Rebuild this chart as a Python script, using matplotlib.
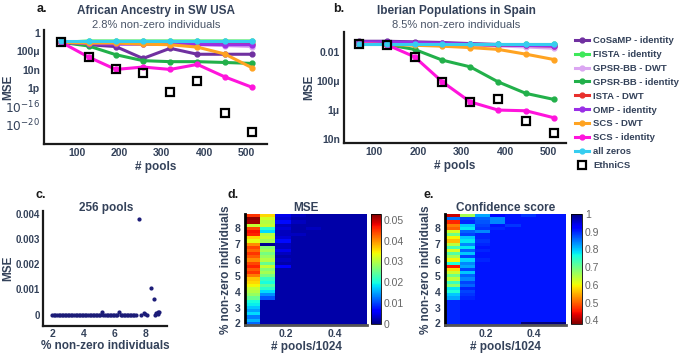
import matplotlib
matplotlib.use('Agg')
import matplotlib.pyplot as plt
import numpy as np
from matplotlib.ticker import NullLocator

plt.rcParams['font.family'] = ['Liberation Sans', 'DejaVu Sans']
TXT = '#34425a'

# ---- data -------------------------------------------------------------
pools = [64, 128, 192, 256, 320, 384, 448, 512]

methods = ['CoSaMP - identity', 'FISTA - identity', 'GPSR-BB - DWT',
           'GPSR-BB - identity', 'ISTA - DWT', 'OMP - identity',
           'SCS - DWT', 'SCS - identity', 'all zeros']
colors = ['#7030a0', '#3ee85a', '#dba6f2', '#22b04a', '#e8302c',
          '#9a2fe6', '#ffa321', '#ff14dc', '#36cdf0']

# panel a: African ancestry in SW USA (MSE)
mse_a = [
    [1e-2, 3e-3, 1.2e-3, 3e-6, 5e-4, 2.5e-5, 2.5e-5, 2.5e-5],   # CoSaMP
    [1e-2, 2e-2, 2e-2, 2e-2, 2e-2, 2e-2, 2e-2, 2e-2],           # FISTA
    [1e-2, 8e-3, 6e-3, 5e-3, 4e-3, 3e-3, 2e-3, 1.2e-3],         # GPSR-BB DWT
    [1e-2, 1.6e-3, 2e-5, 1e-6, 6e-7, 6e-7, 4e-7, 2.5e-7],       # GPSR-BB id
    [1e-2, 8e-3, 7e-3, 6e-3, 6e-3, 5.5e-3, 5e-3, 5e-3],         # ISTA DWT
    [1e-2, 5e-3, 4e-3, 4e-3, 3.5e-3, 3.5e-3, 3e-3, 3e-3],       # OMP
    [1e-2, 7e-3, 7e-3, 4e-3, 3e-3, 9e-4, 3e-5, 3e-8],           # SCS DWT
    [1e-2, 6e-6, 1.2e-8, 4e-8, 1.2e-8, 1.5e-7, 3e-10, 1.6e-12], # SCS id
    [2.5e-2, 2.5e-2, 2.5e-2, 2.5e-2, 2.5e-2, 2.5e-2, 2.5e-2, 2.5e-2],
]
ethnics_a = [1e-2, 6e-6, 1.2e-8, 2.5e-9, 1.6e-13, 4e-11, 3e-18, 2.5e-22]

# panel b: Iberian populations in Spain (MSE)
mse_b = [
    [5.5e-2, 5.5e-2, 5e-2, 4.5e-2, 3.8e-2, 3.3e-2, 3e-2, 2.8e-2],
    [3.8e-2, 3.8e-2, 3.8e-2, 3.8e-2, 3.8e-2, 3.8e-2, 3.8e-2, 3.8e-2],
    [3.8e-2, 3.6e-2, 3.4e-2, 3.2e-2, 3e-2, 2.6e-2, 2.2e-2, 1.8e-2],
    [3.8e-2, 3.2e-2, 1.5e-2, 2.7e-3, 9.3e-4, 8.5e-5, 1.35e-5, 5.2e-6],
    [3.8e-2, 3.7e-2, 3.5e-2, 3.4e-2, 3.2e-2, 3e-2, 2.8e-2, 2.6e-2],
    [5e-2, 5e-2, 4.5e-2, 4e-2, 3.5e-2, 3e-2, 2.8e-2, 2.6e-2],
    [3.8e-2, 3.2e-2, 2.9e-2, 2.5e-2, 2e-2, 1.5e-2, 7e-3, 3e-3],
    [3.8e-2, 3.2e-2, 4.6e-3, 8.5e-5, 3.5e-6, 9.5e-7, 8.5e-7, 2.8e-7],
    [3.8e-2, 3.8e-2, 3.8e-2, 3.8e-2, 3.8e-2, 3.8e-2, 3.8e-2, 3.8e-2],
]
ethnics_b = [3.8e-2, 3.2e-2, 4.6e-3, 8.5e-5, 3.2e-6, 5.2e-6, 1.7e-7, 2.6e-8]

# panel c: 256 pools, MSE vs % non-zero
c_pct = [2.0, 2.1, 2.2, 2.3, 2.4, 2.5, 2.6, 2.7, 2.8, 2.9, 3.0, 3.1, 3.2,
         3.3, 3.4, 3.5, 3.6, 3.7, 3.8, 3.9, 4.0, 4.1, 4.2, 4.3, 4.4, 4.5,
         4.6, 4.7, 4.8, 4.9, 5.0, 5.1, 5.2, 5.3, 5.4, 5.5, 5.6, 5.7, 5.8,
         5.9, 6.0, 6.1, 6.2, 6.3, 6.4, 6.5, 6.6, 6.7, 6.8, 6.9, 7.0, 7.1,
         7.2, 7.3, 7.4, 7.6, 7.7, 7.9, 8.0, 8.1, 8.35, 8.55, 8.6, 8.7,
         8.8, 8.85, 8.9]
c_mse = [0, 0, 0, 0, 0, 0, 0, 0, 0, 0, 0, 0, 0,
         0, 0, 0, 0, 0, 0, 0, 0, 0, 0, 0, 0, 0,
         0, 0, 0, 0, 0, 0, 1e-4, 0, 0, 0, 0, 0, 0,
         0, 0, 0, 0, 9e-5, 0, 0, 0, 0, 0, 0, 0, 0,
         0, 0, 0, 3.8e-3, 0, 8e-5, 4e-5, 0, 1.05e-3, 6.3e-4, 0, 5e-5,
         3e-5, 1.2e-4, 1.1e-4]

# panels d, e: rows are % non-zero (8.8 at top down to 2.0), cols are pools
row_pct = [8.8, 8.6, 8.4, 8.2, 8.0, 7.8, 7.6, 7.4, 7.2, 7.0, 6.8, 6.6, 6.4,
           6.2, 6.0, 5.8, 5.6, 5.4, 5.2, 5.0, 4.8, 4.6, 4.4, 4.2, 4.0, 3.8,
           3.6, 3.4, 3.2, 3.0, 2.8, 2.6, 2.4, 2.2, 2.0]
mse_grid = [
    [0.045, 0.036, 0.005, 0.003, 0.002, 0.002, 0.002, 0.002],
    [0.052, 0.032, 0.004, 0.002, 0.002, 0.002, 0.002, 0.002],
    [0.051, 0.030, 0.007, 0.003, 0.002, 0.002, 0.002, 0.002],
    [0.031, 0.031, 0.003, 0.002, 0.002, 0.002, 0.002, 0.002],
    [0.044, 0.021, 0.004, 0.002, 0.003, 0.002, 0.002, 0.002],
    [0.047, 0.018, 0.003, 0.002, 0.002, 0.002, 0.002, 0.002],
    [0.046, 0.030, 0.003, 0.003, 0.002, 0.002, 0.002, 0.002],
    [0.036, 0.031, 0.004, 0.002, 0.002, 0.002, 0.002, 0.002],
    [0.033, 0.029, 0.007, 0.002, 0.002, 0.002, 0.002, 0.002],
    [0.040, 0.001, 0.003, 0.002, 0.002, 0.002, 0.002, 0.002],
    [0.044, 0.027, 0.003, 0.002, 0.002, 0.002, 0.002, 0.002],
    [0.042, 0.029, 0.005, 0.002, 0.002, 0.002, 0.002, 0.002],
    [0.045, 0.026, 0.003, 0.002, 0.002, 0.002, 0.002, 0.002],
    [0.043, 0.028, 0.002, 0.002, 0.002, 0.002, 0.002, 0.002],
    [0.040, 0.030, 0.003, 0.002, 0.002, 0.002, 0.002, 0.002],
    [0.044, 0.025, 0.002, 0.002, 0.002, 0.002, 0.002, 0.002],
    [0.046, 0.031, 0.006, 0.002, 0.002, 0.002, 0.002, 0.002],
    [0.043, 0.027, 0.002, 0.002, 0.002, 0.002, 0.002, 0.002],
    [0.045, 0.029, 0.002, 0.002, 0.002, 0.002, 0.002, 0.002],
    [0.041, 0.026, 0.002, 0.002, 0.002, 0.002, 0.002, 0.002],
    [0.037, 0.022, 0.002, 0.002, 0.002, 0.002, 0.002, 0.002],
    [0.036, 0.020, 0.002, 0.002, 0.002, 0.002, 0.002, 0.002],
    [0.034, 0.024, 0.002, 0.002, 0.002, 0.002, 0.002, 0.002],
    [0.031, 0.021, 0.002, 0.002, 0.002, 0.002, 0.002, 0.002],
    [0.030, 0.018, 0.002, 0.002, 0.002, 0.002, 0.002, 0.002],
    [0.028, 0.014, 0.002, 0.002, 0.002, 0.002, 0.002, 0.002],
    [0.025, 0.011, 0.002, 0.002, 0.002, 0.002, 0.002, 0.002],
    [0.020, 0.002, 0.002, 0.002, 0.002, 0.002, 0.002, 0.002],
    [0.019, 0.002, 0.002, 0.002, 0.002, 0.002, 0.002, 0.002],
    [0.017, 0.002, 0.002, 0.002, 0.002, 0.002, 0.002, 0.002],
    [0.015, 0.002, 0.002, 0.002, 0.002, 0.002, 0.002, 0.002],
    [0.018, 0.002, 0.002, 0.002, 0.002, 0.002, 0.002, 0.002],
    [0.013, 0.002, 0.002, 0.002, 0.002, 0.002, 0.002, 0.002],
    [0.016, 0.002, 0.002, 0.002, 0.002, 0.002, 0.002, 0.002],
    [0.012, 0.002, 0.002, 0.002, 0.002, 0.002, 0.002, 0.002],
]
conf_grid = [
    [0.42, 0.66, 0.82, 0.92, 0.91, 0.89, 0.91, 0.91],
    [0.85, 0.88, 0.86, 0.84, 0.91, 0.91, 0.91, 0.91],
    [0.46, 0.90, 0.87, 0.84, 0.91, 0.91, 0.91, 0.91],
    [0.52, 0.80, 0.88, 0.91, 0.89, 0.91, 0.91, 0.91],
    [0.50, 0.78, 0.89, 0.90, 0.91, 0.91, 0.91, 0.91],
    [0.62, 0.86, 0.84, 0.91, 0.91, 0.91, 0.91, 0.91],
    [0.70, 0.88, 0.90, 0.91, 0.91, 0.91, 0.91, 0.91],
    [0.60, 0.80, 0.90, 0.91, 0.91, 0.91, 0.91, 0.91],
    [0.56, 0.78, 0.89, 0.91, 0.91, 0.91, 0.91, 0.91],
    [0.64, 0.84, 0.90, 0.91, 0.91, 0.91, 0.91, 0.91],
    [0.73, 0.78, 0.91, 0.91, 0.91, 0.91, 0.91, 0.91],
    [0.62, 0.86, 0.90, 0.91, 0.91, 0.91, 0.91, 0.91],
    [0.72, 0.80, 0.91, 0.91, 0.91, 0.91, 0.91, 0.91],
    [0.66, 0.88, 0.91, 0.91, 0.91, 0.91, 0.91, 0.91],
    [0.60, 0.79, 0.90, 0.91, 0.91, 0.91, 0.91, 0.91],
    [0.76, 0.84, 0.91, 0.91, 0.91, 0.91, 0.91, 0.91],
    [0.45, 0.82, 0.91, 0.91, 0.91, 0.91, 0.91, 0.91],
    [0.58, 0.88, 0.91, 0.91, 0.91, 0.91, 0.91, 0.91],
    [0.63, 0.80, 0.91, 0.91, 0.91, 0.91, 0.91, 0.91],
    [0.70, 0.86, 0.91, 0.91, 0.91, 0.91, 0.91, 0.91],
    [0.64, 0.84, 0.91, 0.91, 0.91, 0.91, 0.91, 0.91],
    [0.74, 0.88, 0.91, 0.91, 0.91, 0.91, 0.91, 0.91],
    [0.68, 0.86, 0.91, 0.91, 0.91, 0.91, 0.91, 0.91],
    [0.78, 0.90, 0.91, 0.91, 0.91, 0.91, 0.91, 0.91],
    [0.76, 0.88, 0.91, 0.91, 0.91, 0.91, 0.91, 0.91],
    [0.80, 0.89, 0.91, 0.91, 0.91, 0.91, 0.91, 0.91],
    [0.82, 0.90, 0.91, 0.91, 0.91, 0.91, 0.91, 0.91],
    [0.90, 0.91, 0.91, 0.91, 0.91, 0.91, 0.91, 0.91],
    [0.90, 0.91, 0.91, 0.91, 0.91, 0.91, 0.91, 0.91],
    [0.90, 0.91, 0.91, 0.91, 0.91, 0.91, 0.91, 0.91],
    [0.90, 0.91, 0.91, 0.91, 0.91, 0.91, 0.91, 0.91],
    [0.90, 0.91, 0.91, 0.91, 0.91, 0.91, 0.91, 0.91],
    [0.90, 0.91, 0.91, 0.91, 0.91, 0.91, 0.91, 0.91],
    [0.90, 0.91, 0.91, 0.91, 0.91, 0.91, 0.91, 0.91],
    [0.90, 0.91, 0.91, 0.91, 0.91, 1.00, 1.00, 1.00],
]
mse_cticks = [0, 0.01, 0.02, 0.03, 0.04, 0.05]
mse_clabels = ['0', '0.01', '0.02', '0.03', '0.04', '0.05']
conf_cticks = [0.4, 0.5, 0.6, 0.7, 0.8, 0.9, 1.0]
conf_clabels = ['0.4', '0.5', '0.6', '0.7', '0.8', '0.9', '1']

W, H = 685, 356


def box(x0, y0, x1, y1):
    # pixel box (top-left origin) -> figure fraction
    return [x0 / W, 1 - y1 / H, (x1 - x0) / W, (y1 - y0) / H]


def style_line_axes(ax):
    for s in ['top', 'right']:
        ax.spines[s].set_visible(False)
    for s in ['left', 'bottom']:
        ax.spines[s].set_linewidth(1.6)
        ax.spines[s].set_color('#1a1a1a')
    ax.tick_params(length=0, pad=3, labelsize=7.5, labelcolor=TXT)
    for t in ax.get_xticklabels() + ax.get_yticklabels():
        t.set_fontweight('bold')


def side_label(x, y, s):
    fig.text(x / W, 1 - y / H, s, rotation=90, ha='center', va='center',
             fontsize=8.5, fontweight='bold', color=TXT)


fig = plt.figure(figsize=(6.85, 3.56), dpi=100)

# ---- panel a ----------------------------------------------------------
ax = fig.add_axes(box(44, 30, 267, 144))
for lab, col, vals in zip(methods, colors, mse_a):
    ax.plot(pools, vals, color=col, lw=2.2, marker='o', ms=3.5, label=lab)
ax.plot(pools, ethnics_a, ls='none', marker='s', ms=6, mfc='none',
        mec='black', mew=1.6, label='EthniCS', zorder=5)
ax.set_yscale('log')
ax.set_ylim(6e-25, 5)
ax.set_xlim(23, 548)
ax.set_xticks([100, 200, 300, 400, 500])
ax.set_yticks([1, 1e-4, 1e-8, 1e-12, 1e-16, 1e-20])
ax.set_yticklabels(['1', '100μ', '10n', '1p', r'$10^{-16}$', r'$10^{-20}$'])
ax.yaxis.set_minor_locator(NullLocator())
style_line_axes(ax)
for t in ax.get_yticklabels()[4:]:
    t.set_fontsize(8.8)
    t.set_fontweight('normal')
ax.set_xlabel('# pools', fontsize=8.5, fontweight='bold', color=TXT, labelpad=2)
side_label(8, 87, 'MSE')
handles, labels = ax.get_legend_handles_labels()

fig.text(156 / W, 1 - 11 / H, 'African Ancestry in SW USA', ha='center',
         va='center', fontsize=8.5, fontweight='bold', color=TXT)
fig.text(156 / W, 1 - 25 / H, '2.8% non-zero individuals', ha='center',
         va='center', fontsize=8, color='#4a5568')
fig.text(37 / W, 1 - 9 / H, 'a.', ha='left', va='center', fontsize=9,
         fontweight='bold', color='#1a1a1a')

# ---- panel b ----------------------------------------------------------
ax = fig.add_axes(box(344, 32, 566, 143))
for lab, col, vals in zip(methods, colors, mse_b):
    ax.plot(pools, vals, color=col, lw=2.2, marker='o', ms=3.5)
ax.plot(pools, ethnics_b, ls='none', marker='s', ms=6, mfc='none',
        mec='black', mew=1.6, zorder=5)
ax.set_yscale('log')
ax.set_ylim(5e-9, 0.24)
ax.set_xlim(30, 540)
ax.set_xticks([100, 200, 300, 400, 500])
ax.set_yticks([1e-2, 1e-4, 1e-6, 1e-8])
ax.set_yticklabels(['0.01', '100μ', '1μ', '10n'])
ax.yaxis.set_minor_locator(NullLocator())
style_line_axes(ax)
ax.set_xlabel('# pools', fontsize=8.5, fontweight='bold', color=TXT, labelpad=2)
side_label(309, 87, 'MSE')

fig.text(456 / W, 1 - 11 / H, 'Iberian Populations in Spain', ha='center',
         va='center', fontsize=8.5, fontweight='bold', color=TXT)
fig.text(456 / W, 1 - 25 / H, '8.5% non-zero individuals', ha='center',
         va='center', fontsize=8, color='#4a5568')
fig.text(333 / W, 1 - 9 / H, 'b.', ha='left', va='center', fontsize=9,
         fontweight='bold', color='#1a1a1a')

fig.legend(handles, labels, loc='upper left', bbox_to_anchor=(575 / W, 1 - 36 / H),
           frameon=False, prop={'weight': 'bold', 'size': 6.8},
           labelspacing=0.52, handlelength=1.5, handletextpad=0.4,
           borderaxespad=0, borderpad=0, labelcolor=TXT)

# ---- panel c ----------------------------------------------------------
ax = fig.add_axes(box(43, 211, 167, 326))
ax.plot(c_pct, c_mse, ls='none', marker='o', ms=2.0, color='#1c1c78')
ax.set_xlim(1.4, 9.4)
ax.set_ylim(-0.00045, 0.0041)
ax.set_xticks([2, 4, 6, 8])
ax.set_yticks([0, 0.001, 0.002, 0.003, 0.004])
ax.set_yticklabels(['0', '0.001', '0.002', '0.003', '0.004'])
style_line_axes(ax)
ax.tick_params(axis='x', pad=2)
ax.tick_params(axis='y', pad=2, labelsize=7)
fig.text(105 / W, 1 - 346 / H, '% non-zero individuals', ha='center',
         va='center', fontsize=8.5, fontweight='bold', color=TXT)
side_label(8, 268, 'MSE')
fig.text(106 / W, 1 - 208 / H, '256 pools', ha='center', va='center',
         fontsize=8.5, fontweight='bold', color=TXT)
fig.text(36 / W, 1 - 195 / H, 'c.', ha='left', va='center', fontsize=9,
         fontweight='bold', color='#1a1a1a')

# ---- panels d, e ------------------------------------------------------
ext = [pools[0] / 1024 - 32 / 1024, pools[-1] / 1024 + 32 / 1024,
       row_pct[-1] - 0.1, row_pct[0] + 0.1]


def heat(ax_box, cb_box, grid, cmap, vmin, vmax, title, cticks, clabels,
         letter, lx):
    ax = fig.add_axes(box(*ax_box))
    im = ax.imshow(np.array(grid), extent=ext, aspect='auto', origin='upper',
                   cmap=cmap, vmin=vmin, vmax=vmax, interpolation='nearest')
    ax.set_xlim(ext[0], ext[1])
    ax.set_ylim(ext[2], ext[3])
    ax.set_xticks([0.2, 0.4])
    ax.set_yticks([2, 3, 4, 5, 6, 7, 8])
    for s in ['top', 'right']:
        ax.spines[s].set_visible(False)
    ax.spines['left'].set_linewidth(2)
    ax.spines['left'].set_color('black')
    ax.spines['bottom'].set_linewidth(2)
    ax.spines['bottom'].set_color('#555555')
    ax.tick_params(length=0, pad=3, labelsize=7.5, labelcolor=TXT)
    for t in ax.get_xticklabels() + ax.get_yticklabels():
        t.set_fontweight('bold')
    ax.set_xlabel('# pools/1024', fontsize=8.5, fontweight='bold', color=TXT,
                  labelpad=1)
    ax.set_ylabel('% non-zero individuals', fontsize=8.5, fontweight='bold',
                  color=TXT, labelpad=2)
    ax.set_title(title, fontsize=8.5, fontweight='bold', color=TXT, pad=2)
    cax = fig.add_axes(box(*cb_box))
    cb = fig.colorbar(im, cax=cax, ticks=cticks)
    cb.ax.set_yticklabels(clabels)
    cb.outline.set_linewidth(0.6)
    cb.ax.tick_params(length=0, pad=2, labelsize=7.5, labelcolor='#666666')
    fig.text(lx / W, 1 - 195 / H, letter, ha='left', va='center', fontsize=9,
             fontweight='bold', color='#1a1a1a')


heat((245, 214, 367, 325), (371, 214, 381, 324), mse_grid, 'jet', 0, 0.0527,
     'MSE', mse_cticks, mse_clabels, 'd.', 228)
heat((445, 214, 566, 325), (571, 214, 582, 324), conf_grid, 'jet_r', 0.38, 1.0,
     'Confidence score', conf_cticks, conf_clabels, 'e.', 423)

fig.savefig('out.png', dpi=100)
